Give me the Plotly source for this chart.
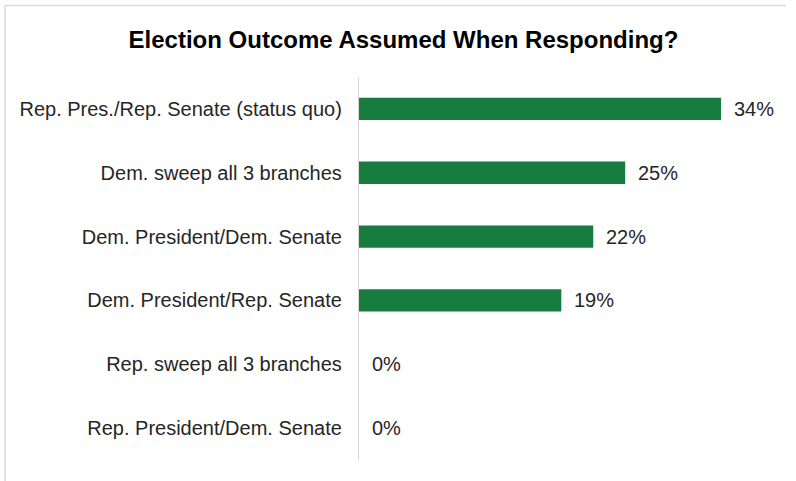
import plotly.graph_objects as go

# Survey responses: which election outcome respondents assumed
categories = [
    "Rep. Pres./Rep. Senate (status quo)",
    "Dem. sweep all 3 branches",
    "Dem. President/Dem. Senate",
    "Dem. President/Rep. Senate",
    "Rep. sweep all 3 branches",
    "Rep. President/Dem. Senate",
]
shares = [34, 25, 22, 19, 0, 0]
value_labels = [f"{v}%" for v in shares]

title_text = "Election Outcome Assumed When Responding?"

BAR_GREEN = "#177d3f"
TEXT_DARK = "#262626"
GRID_GRAY = "#d9d9d9"
FONT = "Liberation Sans, Arial, sans-serif"

W, H = 796, 481
ML, MR, MT, MB = 359, 10, 77, 21
plot_w = W - ML - MR
plot_h = H - MT - MB

fig = go.Figure()
fig.add_trace(
    go.Bar(
        x=shares,
        y=categories,
        orientation="h",
        marker=dict(color=BAR_GREEN, line=dict(width=0)),
        width=0.35,
        hoverinfo="skip",
    )
)

# value labels to the right of each bar
for cat, val, lab in zip(categories, shares, value_labels):
    fig.add_annotation(
        x=val, y=cat, xref="x", yref="y",
        text=lab, showarrow=False,
        xanchor="left", yanchor="middle", xshift=11,
        font=dict(family=FONT, size=20, color=TEXT_DARK),
    )

# chart frame (top and left edges)
def px_x(px):
    return (px - ML) / plot_w

def px_y(py):
    return 1 + (MT - py) / plot_h

fig.add_shape(type="line", xref="paper", yref="paper",
              x0=px_x(5), x1=px_x(786), y0=px_y(5.5), y1=px_y(5.5),
              line=dict(color=GRID_GRAY, width=1.5))
fig.add_shape(type="line", xref="paper", yref="paper",
              x0=px_x(5), x1=px_x(5), y0=px_y(5.5), y1=px_y(490),
              line=dict(color=GRID_GRAY, width=1.5))

fig.update_layout(
    width=W, height=H,
    margin=dict(l=ML, r=MR, t=MT, b=MB, pad=0),
    paper_bgcolor="white", plot_bgcolor="white",
    showlegend=False,
    title=dict(
        text=f"<b>{title_text}</b>",
        x=403.5 / W, xref="container", xanchor="center",
        y=1 - 40 / H, yref="container", yanchor="middle",
        font=dict(family=FONT, size=24, color="#000000"),
    ),
    xaxis=dict(
        range=[0, 40.1], showgrid=False, zeroline=False,
        showticklabels=False, showline=False, ticks="",
    ),
    yaxis=dict(
        categoryorder="array", categoryarray=categories,
        autorange="reversed",
        showgrid=False, zeroline=False,
        showline=True, linecolor=GRID_GRAY, linewidth=1.3,
        ticks="", ticklabelstandoff=12,
        tickfont=dict(family=FONT, size=20, color=TEXT_DARK),
    ),
)

fig.write_html("out.html")
